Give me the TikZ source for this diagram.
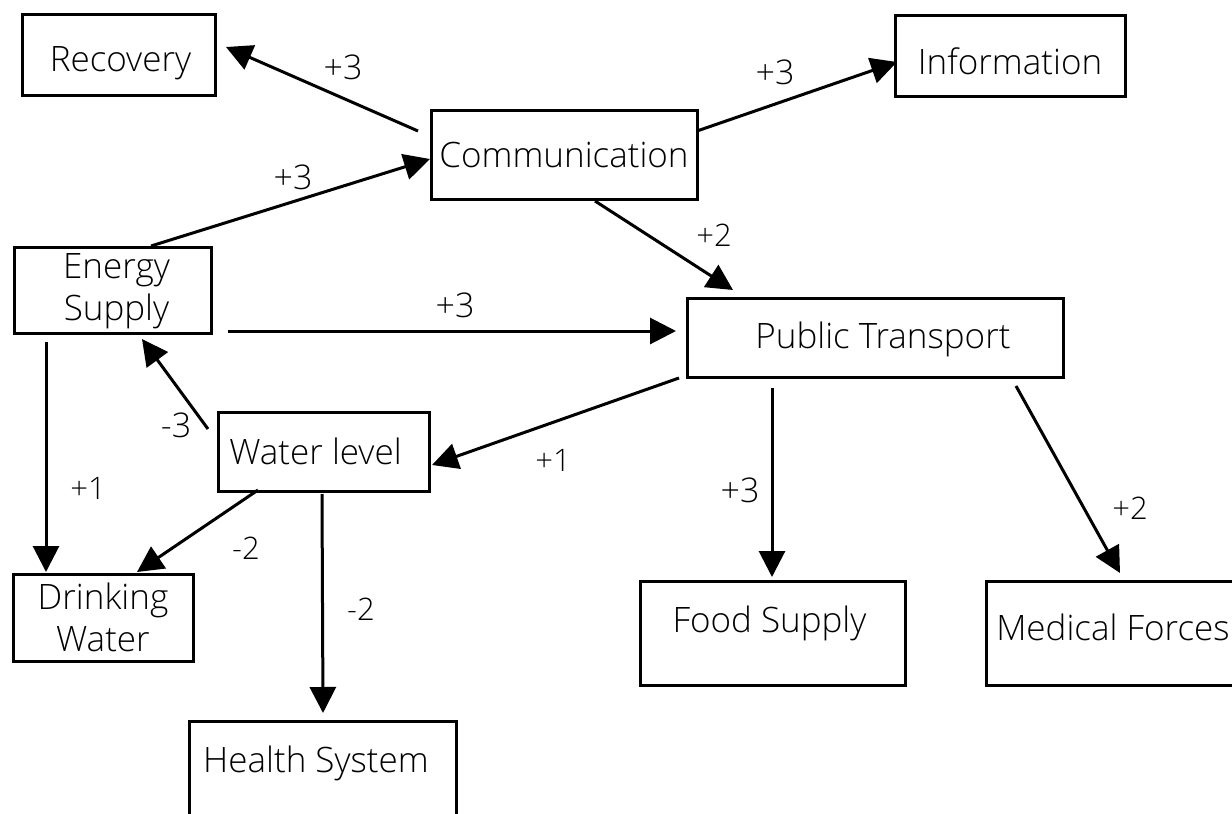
\documentclass[tikz,border=0pt]{standalone}
\usepackage{fontspec}
\setmainfont{Open Sans}[UprightFont={* Light}]
\usetikzlibrary{arrows.meta,calc}
\tikzset{
  box/.style={draw, line width=3pt, rectangle, inner sep=0pt, outer sep=0pt},
  txt/.style={font=\fontsize{35}{42}\selectfont, align=center, inner sep=0pt},
  arr/.style={line width=3pt, -{Triangle[length=26pt,width=26pt]}},
  wbig/.style={font=\fontsize{34}{40}\selectfont, inner sep=0pt},
  wsmall/.style={font=\fontsize{31}{36}\selectfont, inner sep=0pt},
}
\begin{document}
\begin{tikzpicture}[x=1pt, y=-1pt]
\useasboundingbox (0,0) rectangle (1232,814);
\clip (0,0) rectangle (1232,814);

% boxes
\node[box, minimum width=193, minimum height=81, label={[txt, xshift=2, yshift=-9]center:Recovery}] (rec) at (118.5,54.5) {};
\node[box, minimum width=230, minimum height=81, label={[txt, yshift=-6]center:Information}] (info) at (1010,55.5) {};
\node[box, minimum width=266, minimum height=89, label={[txt]center:Communication}] (comm) at (564,154.5) {};
\node[box, minimum width=197, minimum height=86, label={[txt, xshift=4, yshift=-1]center:Energy\\Supply}] (energy) at (112.5,290) {};
\node[box, minimum width=376, minimum height=79, label={[txt, xshift=8, yshift=-2]center:Public Transport}] (pt) at (875,337.5) {};
\node[box, minimum width=211, minimum height=79, label={[txt, xshift=-8]center:Water level}] (water) at (323.5,451.5) {};
\node[box, minimum width=180, minimum height=87, label={[txt]center:Drinking\\Water}] (drink) at (103,617.5) {};
\node[box, minimum width=267, minimum height=138, label={[txt, xshift=-7, yshift=27]center:Health System}] (health) at (323,790) {};
\node[box, minimum width=265, minimum height=104, label={[txt, xshift=-3, yshift=10]center:Food Supply}] (food) at (772.5,633) {};
\node[box, minimum width=278, minimum height=104, label={[txt, xshift=-12, yshift=6]center:Medical Forces}] (med) at (1125,633) {};

% connectors
\draw[arr] ($(comm.west)+(-13,-23.5)$) -- ($(rec.east)+(11,-7.5)$);
\draw[arr] ($(comm.east)+(0,-23.5)$) -- ($(info.west)+(2,6.5)$);
\draw[arr] ($(energy.north)+(38.5,-1)$) -- ($(comm.west)+(-1,4.5)$);
\draw[arr] ($(comm.south)+(31,2)$) -- ($(pt.north)+(-142,-8)$);
\draw[arr] ($(energy.east)+(17,41)$) -- ($(pt.west)+(-11,-6.5)$);
\draw[arr] ($(water.west)+(-10,-22.5)$) -- ($(energy.south)+(29.5,6)$);
\draw[arr] ($(energy.south)+(-66.5,9)$) -- ($(drink.north)+(-57,-2)$);
\draw[arr] ($(water.south)+(-65.5,-1)$) -- ($(drink.north)+(34,-2)$);
\draw[arr] ($(water.south)+(-1.5,3)$) -- ($(health.north)+(0,-8)$);
\draw[arr] ($(pt.south west)+(-8,1)$) -- ($(water.east)+(3,13.5)$);
\draw[arr] ($(pt.south)+(-103,11)$) -- ($(food.north)+(-0.5,-4)$);
\draw[arr] ($(pt.south)+(141,9)$) -- ($(med.north)+(-5,-8)$);

% weights
\node[wbig] (w1) at (343,67) {+3};
\node[wbig] (w2) at (775,72) {+3};
\node[wbig] (w3) at (293,177) {+3};
\node[wsmall] (w4) at (714,235) {+2};
\node[wbig] (w5) at (455,305) {+3};
\node[wbig] (w6) at (176,425) {-3};
\node[wsmall] (w7) at (88,488) {+1};
\node[wsmall] (w8) at (246,548) {-2};
\node[wsmall] (w9) at (361,609) {-2};
\node[wsmall] (w10) at (553,460) {+1};
\node[wbig] (w11) at (740,490) {+3};
\node[wsmall] (w12) at (1130,508) {+2};
\end{tikzpicture}
\end{document}
